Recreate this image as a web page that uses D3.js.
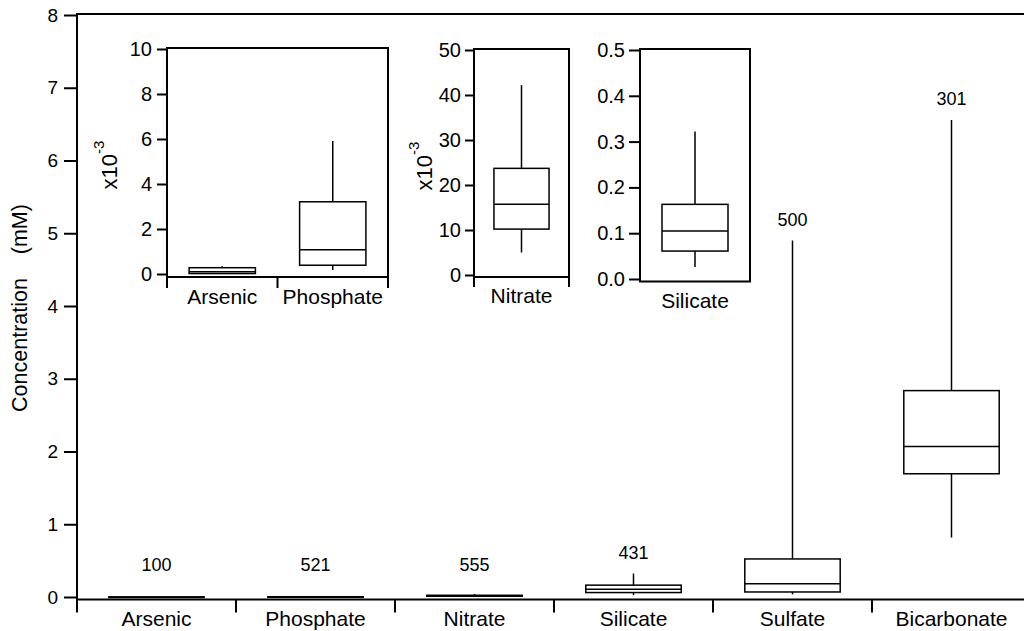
<!DOCTYPE html>
<html>
<head>
<meta charset="utf-8">
<script src="https://cdn.jsdelivr.net/npm/d3@7"></script>
<style>
  html, body { margin: 0; padding: 0; background: #fff; }
  svg { display: block; font-family: "Liberation Sans", Arial, sans-serif; }
  text { fill: #000; }
</style>
</head>
<body>
<svg id="chart" width="1024" height="631"></svg>
<script>
// ---- data (mM) ----
const categories = ["Arsenic", "Phosphate", "Nitrate", "Silicate", "Sulfate", "Bicarbonate"];
const whiskerLow  = [0.00000, 0.00018, 0.0050, 0.026, 0.037, 0.817];
const quartile1   = [0.00002, 0.00039, 0.0102, 0.061, 0.069, 1.694];
const medians     = [0.00010, 0.00108, 0.0157, 0.105, 0.183, 2.070];
const quartile3   = [0.00028, 0.00321, 0.0237, 0.163, 0.523, 2.837];
const whiskerHigh = [0.00034, 0.00591, 0.0422, 0.322, 4.900, 6.556];
const sampleCounts = [100, 521, 555, 431, 500, 301];
const mainTicks = [0, 1, 2, 3, 4, 5, 6, 7, 8];

// insets: which categories, multiplier, tick values
const inset1Cats = ["Arsenic", "Phosphate"];
const inset1Ticks = [0, 2, 4, 6, 8, 10];          // x10^-3 mM
const inset2Cats = ["Nitrate"];
const inset2Ticks = [0, 10, 20, 30, 40, 50];      // x10^-3 mM
const inset3Cats = ["Silicate"];
const inset3Ticks = [0.0, 0.1, 0.2, 0.3, 0.4, 0.5]; // mM

const rows = categories.map((c, i) => ({
  cat: c, lo: whiskerLow[i], q1: quartile1[i], med: medians[i],
  q3: quartile3[i], hi: whiskerHigh[i], n: sampleCounts[i]
}));

const svg = d3.select("#chart");
const AX = 2, BX = 1.5;

function drawBoxes(g, x, y, data, mult, frac) {
  const w = x.bandwidth() * frac;
  data.forEach(d => {
    const cx = x(d.cat) + x.bandwidth() / 2;
    const gg = g.append("g");
    gg.append("line").attr("x1", cx).attr("x2", cx)
      .attr("y1", y(d.hi * mult)).attr("y2", y(d.q3 * mult))
      .attr("stroke", "#000").attr("stroke-width", BX);
    gg.append("line").attr("x1", cx).attr("x2", cx)
      .attr("y1", y(d.q1 * mult)).attr("y2", y(d.lo * mult))
      .attr("stroke", "#000").attr("stroke-width", BX);
    gg.append("rect").attr("x", cx - w / 2).attr("width", w)
      .attr("y", y(d.q3 * mult)).attr("height", Math.max(0.5, y(d.q1 * mult) - y(d.q3 * mult)))
      .attr("fill", "none").attr("stroke", "#000").attr("stroke-width", BX);
    gg.append("line").attr("x1", cx - w / 2).attr("x2", cx + w / 2)
      .attr("y1", y(d.med * mult)).attr("y2", y(d.med * mult))
      .attr("stroke", "#000").attr("stroke-width", BX);
  });
}

function drawFrame(g, x, y, opts) {
  const x0 = x.range()[0], x1 = x.range()[1];
  const yTop = y(y.domain()[1]) - 1;
  const yBot = opts.bottom;
  const ya = d3.axisLeft(y).tickValues(opts.ticks).tickSize(opts.tickLen).tickPadding(opts.pad)
    .tickFormat(opts.fmt);
  const yg = g.append("g").attr("transform", `translate(${x0},0)`).call(ya);
  yg.select(".domain").remove();
  yg.selectAll(".tick line").attr("stroke", "#000").attr("stroke-width", AX);
  yg.selectAll(".tick text").attr("font-size", opts.tickFont).attr("font-family", "Liberation Sans, Arial, sans-serif").attr("fill", "#000");
  g.append("line").attr("x1", x0).attr("x2", x0).attr("y1", yTop).attr("y2", yBot)
    .attr("stroke", "#000").attr("stroke-width", AX);
  g.append("line").attr("x1", x0 - 1).attr("x2", x1 + 1).attr("y1", yTop).attr("y2", yTop)
    .attr("stroke", "#000").attr("stroke-width", AX);
  if (opts.right) {
    g.append("line").attr("x1", x1).attr("x2", x1).attr("y1", yTop).attr("y2", yBot + opts.catTick)
      .attr("stroke", "#000").attr("stroke-width", AX);
  }
  g.append("line").attr("x1", x0 - 1).attr("x2", x1 + 1).attr("y1", yBot).attr("y2", yBot)
    .attr("stroke", "#000").attr("stroke-width", AX);
  const bounds = x.domain().map(c => x(c)).concat([x1]);
  g.selectAll(null).data(bounds).enter().append("line")
    .attr("x1", d => d).attr("x2", d => d).attr("y1", yBot).attr("y2", yBot + opts.catTick)
    .attr("stroke", "#000").attr("stroke-width", AX);
  const xa = d3.axisBottom(x).tickSize(0).tickPadding(0);
  const xg = g.append("g").attr("transform", `translate(0,${opts.labelY})`).call(xa);
  xg.select(".domain").remove();
  xg.selectAll(".tick text").attr("font-size", opts.catFont).attr("dy", 0)
    .attr("font-family", "Liberation Sans, Arial, sans-serif").attr("fill", "#000");
}

// ---- main plot ----
const mainX = d3.scaleBand().domain(categories).range([77, 1031]);
const mainY = d3.scaleLinear().domain([0, 8]).range([597, 15]);
const gMain = svg.append("g");
drawFrame(gMain, mainX, mainY, {
  ticks: mainTicks, tickLen: 13, pad: 6, fmt: d3.format("d"), tickFont: 19,
  bottom: 599.5, catTick: 13, right: false, labelY: 626, catFont: 21
});
drawBoxes(gMain, mainX, mainY, rows, 1, 0.6);

gMain.selectAll(".nlab").data(rows).enter().append("text")
  .attr("class", "nlab")
  .attr("x", d => mainX(d.cat) + mainX.bandwidth() / 2)
  .attr("y", d => mainY(Math.max(d.hi + 0.3, 0.45)) + 7)
  .attr("text-anchor", "middle").attr("font-size", 18)
  .text(d => d.n);

svg.append("text")
  .attr("transform", "translate(27,308) rotate(-90)")
  .attr("text-anchor", "middle").attr("font-size", 21.5)
  .style("white-space", "pre")
  .text("Concentration    (mM)");

// ---- inset 1: Arsenic, Phosphate (x10^-3) ----
const in1X = d3.scaleBand().domain(inset1Cats).range([167, 388]);
const in1Y = d3.scaleLinear().domain([0, 10]).range([274, 49]);
const gIn1 = svg.append("g");
drawFrame(gIn1, in1X, in1Y, {
  ticks: inset1Ticks, tickLen: 10, pad: 5, fmt: d3.format("d"), tickFont: 20,
  bottom: 277, catTick: 11, right: true, labelY: 304, catFont: 21
});
drawBoxes(gIn1, in1X, in1Y, rows.filter(d => inset1Cats.includes(d.cat)), 1000, 0.6);

// ---- inset 2: Nitrate (x10^-3) ----
const in2X = d3.scaleBand().domain(inset2Cats).range([474, 569]);
const in2Y = d3.scaleLinear().domain([0, 50]).range([275, 50]);
const gIn2 = svg.append("g");
drawFrame(gIn2, in2X, in2Y, {
  ticks: inset2Ticks, tickLen: 9, pad: 4, fmt: d3.format("d"), tickFont: 20,
  bottom: 277, catTick: 10, right: true, labelY: 303, catFont: 21
});
drawBoxes(gIn2, in2X, in2Y, rows.filter(d => inset2Cats.includes(d.cat)), 1000, 0.58);

// ---- inset 3: Silicate ----
const in3X = d3.scaleBand().domain(inset3Cats).range([640, 750]);
const in3Y = d3.scaleLinear().domain([0, 0.5]).range([279, 50]);
const gIn3 = svg.append("g");
drawFrame(gIn3, in3X, in3Y, {
  ticks: inset3Ticks, tickLen: 11, pad: 4, fmt: d3.format(".1f"), tickFont: 20,
  bottom: 281.5, catTick: 0, right: true, labelY: 308, catFont: 21
});
drawBoxes(gIn3, in3X, in3Y, rows.filter(d => inset3Cats.includes(d.cat)), 1, 0.6);

function expLabel(x, y) {
  const t = svg.append("text")
    .attr("transform", `translate(${x},${y}) rotate(-90)`)
    .attr("text-anchor", "middle").attr("font-size", 22);
  t.append("tspan").text("x10");
  t.append("tspan").attr("dy", -13).attr("font-size", 15).text("-3");
}
expLabel(117, 165);
expLabel(432, 166);
</script>
</body>
</html>
